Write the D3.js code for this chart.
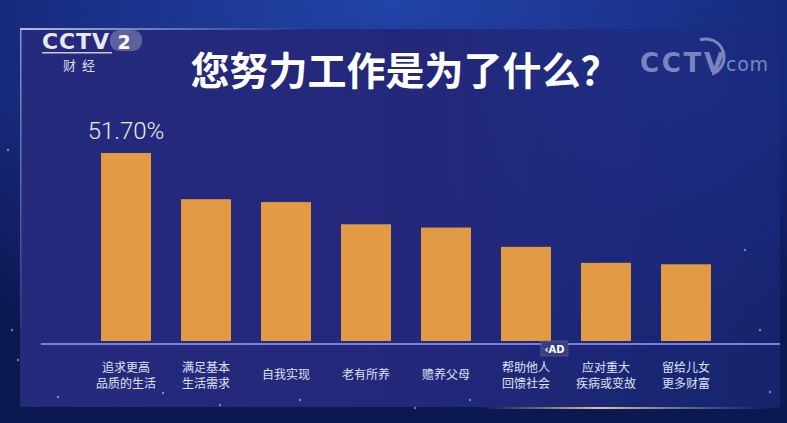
<!DOCTYPE html>
<html><head><meta charset="utf-8">
<script src="https://cdn.jsdelivr.net/npm/d3@7"></script>
<style>html,body{margin:0;padding:0;background:#14236a;overflow:hidden}</style>
</head><body>
<svg id="c" width="787" height="423"></svg>
<script>
const categories = ["追求更高\n品质的生活","满足基本\n生活需求","自我实现","老有所养","赡养父母","帮助他人\n回馈社会","应对重大\n疾病或变故","留给儿女\n更多财富"];
const values = [51.7, 39.0, 38.2, 32.1, 31.2, 25.9, 21.5, 21.1];
const valueLabels = ["51.70%", "", "", "", "", "", "", ""];
const title = "您努力工作是为了什么？";

const W = 787, H = 423;
const svg = d3.select("#c");
const defs = svg.append("defs");
const bg = defs.append("radialGradient").attr("id","bg").attr("cx","50%").attr("cy","0%").attr("r","90%");
bg.append("stop").attr("offset","0%").attr("stop-color","#2244a8");
bg.append("stop").attr("offset","60%").attr("stop-color","#16287a");
bg.append("stop").attr("offset","100%").attr("stop-color","#0c1850");
svg.append("rect").attr("width",W).attr("height",H).attr("fill","url(#bg)");

const pg = defs.append("linearGradient").attr("id","panel").attr("x1","0").attr("x2","1").attr("y1","0").attr("y2","0");
pg.append("stop").attr("offset","0%").attr("stop-color","#262a7c");
pg.append("stop").attr("offset","55%").attr("stop-color","#23287a");
pg.append("stop").attr("offset","100%").attr("stop-color","#1c2c80").attr("stop-opacity",0.6);
svg.append("rect").attr("x",20).attr("y",29).attr("width",760).attr("height",378).attr("fill","url(#panel)");

// panel border glow
const tg = defs.append("linearGradient").attr("id","topline").attr("x1","0").attr("x2","1");
tg.append("stop").attr("offset","0%").attr("stop-color","#c9cde8").attr("stop-opacity",0.9);
tg.append("stop").attr("offset","100%").attr("stop-color","#c9cde8").attr("stop-opacity",0);
svg.append("rect").attr("x",20).attr("y",28).attr("width",290).attr("height",2).attr("fill","url(#topline)");
const lg = defs.append("linearGradient").attr("id","leftline").attr("x1","0").attr("x2","0").attr("y1","0").attr("y2","1");
lg.append("stop").attr("offset","0%").attr("stop-color","#a9b0e0").attr("stop-opacity",0.8);
lg.append("stop").attr("offset","100%").attr("stop-color","#a9b0e0").attr("stop-opacity",0.1);
svg.append("rect").attr("x",20).attr("y",29).attr("width",1.5).attr("height",300).attr("fill","url(#leftline)");
const bgl = defs.append("linearGradient").attr("id","botline").attr("x1","0").attr("x2","1");
bgl.append("stop").attr("offset","0%").attr("stop-color","#e8c890").attr("stop-opacity",0);
bgl.append("stop").attr("offset","40%").attr("stop-color","#f0d8a8").attr("stop-opacity",0.9);
bgl.append("stop").attr("offset","100%").attr("stop-color","#9fb0e0").attr("stop-opacity",0);
svg.append("rect").attr("x",480).attr("y",407).attr("width",300).attr("height",2).attr("fill","url(#botline)");

// stars (decorative, fixed)
const stars = [[12,330],[18,360],[58,397],[163,393],[220,405],[300,400],[415,408],[470,400],[770,392],[760,330],[745,250],[8,150]];
svg.selectAll("circle.star").data(stars).join("circle").attr("class","star")
  .attr("cx",d=>d[0]).attr("cy",d=>d[1]).attr("r",1.2).attr("fill","#b8c4f0").attr("opacity",0.6);

// logos
const lg1 = svg.append("g").attr("fill","#e6e8f4");
lg1.append("text").attr("x",42).attr("y",49).attr("font-family","DejaVu Sans").attr("font-weight","bold")
  .attr("font-size",22).attr("letter-spacing",-1).attr("textLength",66).text("CCTV");
lg1.append("rect").attr("x",110).attr("y",30).attr("width",32).attr("height",21).attr("rx",9)
  .attr("fill","#6a70a8").attr("opacity",0.8);
lg1.append("text").attr("x",124).attr("y",49).attr("text-anchor","middle").attr("font-family","DejaVu Sans")
  .attr("font-weight","bold").attr("font-size",19).attr("fill","#fff").text("2");
lg1.append("rect").attr("x",42).attr("y",52).attr("width",70).attr("height",1.5).attr("fill","#c8cce8");
lg1.append("text").attr("x",82).attr("y",70).attr("text-anchor","middle").attr("font-family","Noto Sans CJK SC")
  .attr("font-size",13).attr("letter-spacing",6).attr("fill","#d8dcf0").text("财经");

const lg2 = svg.append("g").attr("opacity",0.55).attr("fill","#c8cff0");
lg2.append("text").attr("x",640).attr("y",72).attr("font-family","DejaVu Sans").attr("font-weight","bold")
  .attr("font-size",26).attr("textLength",84).text("CCTV");
lg2.append("text").attr("x",726).attr("y",71).attr("font-family","DejaVu Sans")
  .attr("font-size",19).attr("textLength",42).text("com");
lg2.append("path").attr("d","M700,40 A18,18 0 1,1 712,74").attr("fill","none").attr("stroke","#c8cff0").attr("stroke-width",3);

// title
svg.append("text").attr("x",405).attr("y",85).attr("text-anchor","middle")
  .attr("font-family","Noto Sans CJK SC").attr("font-weight","bold").attr("font-size",39)
  .attr("fill","#ffffff").text(title);

// scales
const x = d3.scaleBand().domain(categories).range([86,726]).paddingInner(0.375).paddingOuter(0.1875);
const y = d3.scaleLinear().domain([0,55]).range([341,141]);

// bars
svg.selectAll("rect.bar").data(values).join("rect").attr("class","bar")
  .attr("x",(d,i)=>x(categories[i])).attr("width",x.bandwidth())
  .attr("y",d=>y(d)).attr("height",d=>y(0)-y(d)).attr("fill","#e29a45");

// baseline
svg.append("rect").attr("x",41).attr("y",y(0)+2).attr("width",739).attr("height",2).attr("fill","#7a7fd8");

// value labels
svg.selectAll("text.val").data(valueLabels).join("text").attr("class","val")
  .attr("x",(d,i)=>x(categories[i])+x.bandwidth()/2).attr("y",(d,i)=>y(values[i])-14)
  .attr("text-anchor","middle").attr("font-family","Roboto").attr("font-weight","300")
  .attr("font-size",24).attr("fill","#e8eaf6").text(d=>d);

// axis labels
const ax = svg.append("g").attr("transform",`translate(0,${y(0)})`)
  .call(d3.axisBottom(x).tickSize(0).tickFormat(""));
ax.select(".domain").remove();
ax.selectAll(".tick").each(function(d){
  const lines = d.split("\n");
  const g = d3.select(this);
  const y0 = lines.length === 1 ? 38 : 31;
  lines.forEach((l,k)=>g.append("text").attr("text-anchor","middle")
    .attr("font-family","Noto Sans CJK SC").attr("font-size",12).attr("fill","#dfe2f4")
    .attr("y",y0 + k*16).text(l));
});

// AD badge overlay
const ad = svg.append("g");
ad.append("rect").attr("x",541).attr("y",341).attr("width",27).attr("height",15).attr("fill","#3a3f80").attr("stroke","#6a6f9c").attr("stroke-width",0.5);
ad.append("text").attr("x",554.5).attr("y",353).attr("text-anchor","middle").attr("font-family","DejaVu Sans")
  .attr("font-weight","bold").attr("font-size",10).attr("fill","#ffffff").text("‹AD");
</script>
</body></html>
